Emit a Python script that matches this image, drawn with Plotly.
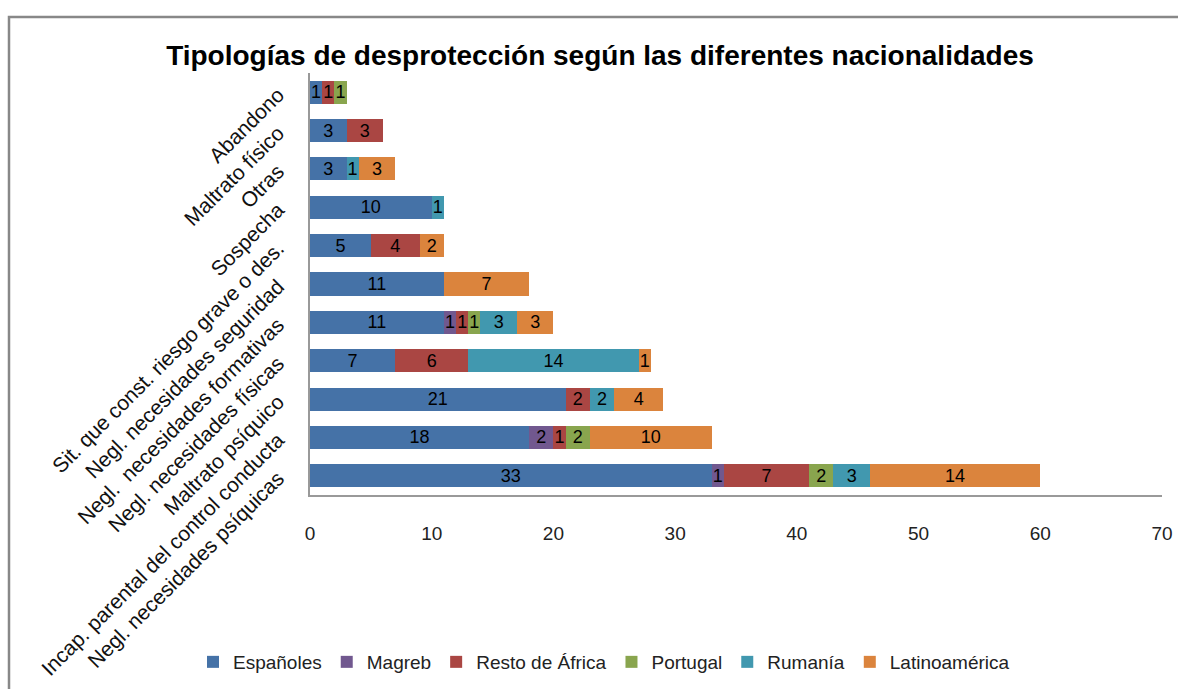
import plotly.graph_objects as go

categories = [
    "Abandono",
    "Maltrato físico",
    "Otras",
    "Sospecha",
    "Sit. que const. riesgo grave o des.",
    "Negl. necesidades seguridad",
    "Negl.  necesidades formativas",
    "Negl. necesidades físicas",
    "Maltrato psíquico",
    "Incap. parental del control conducta",
    "Negl. necesidades psíquicas",
]

espanoles = [1, 3, 3, 10, 5, 11, 11, 7, 21, 18, 33]
magreb = [None, None, None, None, None, None, 1, None, None, 2, 1]
resto_africa = [1, 3, None, None, 4, None, 1, 6, 2, 1, 7]
portugal = [1, None, None, None, None, None, 1, None, None, 2, 2]
rumania = [None, None, 1, 1, None, None, 3, 14, 2, None, 3]
latinoamerica = [None, None, 3, None, 2, 7, 3, 1, 4, 10, 14]

series = [
    ("Españoles", espanoles, "#4572A7"),
    ("Magreb", magreb, "#71588F"),
    ("Resto de África", resto_africa, "#AA4643"),
    ("Portugal", portugal, "#89A54E"),
    ("Rumanía", rumania, "#4198AF"),
    ("Latinoamérica", latinoamerica, "#DB843D"),
]

FONT = "Liberation Sans, Arial, sans-serif"

fig = go.Figure()
for name, vals, color in series:
    fig.add_trace(go.Bar(
        y=categories,
        x=vals,
        name=name,
        orientation="h",
        marker=dict(color=color, line=dict(width=0)),
        text=[("" if v is None else str(v)) for v in vals],
        textposition="inside",
        insidetextanchor="middle",
        textangle=0,
        constraintext="none",
        textfont=dict(family=FONT, size=18, color="#000000"),
        cliponaxis=False,
    ))

W, H = 1178, 689
L, R, T, B = 310, 16, 73, 194
pw, ph = W - L - R, H - T - B

def px_x(p):
    return (p - L) / pw

def px_y(p):
    return (H - B - p) / ph

fig.update_layout(
    width=W,
    height=H,
    barmode="stack",
    bargap=0.4,
    plot_bgcolor="white",
    paper_bgcolor="white",
    margin=dict(l=L, r=R, t=T, b=B, autoexpand=False),
    uniformtext=dict(minsize=18, mode="show"),
    title=dict(
        text="<b>Tipologías de desprotección según las diferentes nacionalidades</b>",
        font=dict(family=FONT, size=28, color="#000000"),
        x=600 / W, xanchor="center", xref="container",
        y=1 - 55 / H, yanchor="middle", yref="container",
    ),
    legend=dict(
        orientation="h",
        x=604 / W, xanchor="center", xref="container",
        y=1 - 662 / H, yanchor="middle", yref="container",
        font=dict(family=FONT, size=19, color="#222222"),
        traceorder="normal",
        itemwidth=30,
    ),
    xaxis=dict(
        range=[0, 70],
        dtick=10,
        showgrid=False,
        zeroline=False,
        showline=True,
        linecolor="#999999",
        linewidth=1.5,
        ticks="",
        ticklabelstandoff=20,
        tickfont=dict(family=FONT, size=19, color="#222222"),
    ),
    yaxis=dict(
        autorange="reversed",
        showgrid=False,
        zeroline=False,
        showline=True,
        linecolor="#999999",
        linewidth=1.5,
        ticks="",
        tickangle=-45,
        ticklabelstandoff=26,
        tickfont=dict(family=FONT, size=21, color="#111111"),
    ),
    shapes=[
        dict(
            type="path",
            xref="paper", yref="paper",
            path=f"M {px_x(9)} {px_y(700)} L {px_x(9)} {px_y(17)} L {px_x(1190)} {px_y(17)}",
            line=dict(color="#888888", width=2.5),
        )
    ],
)

fig.write_html(
    "out.html",
    config={"displayModeBar": False},
    post_script="document.body.style.margin='0';",
)
